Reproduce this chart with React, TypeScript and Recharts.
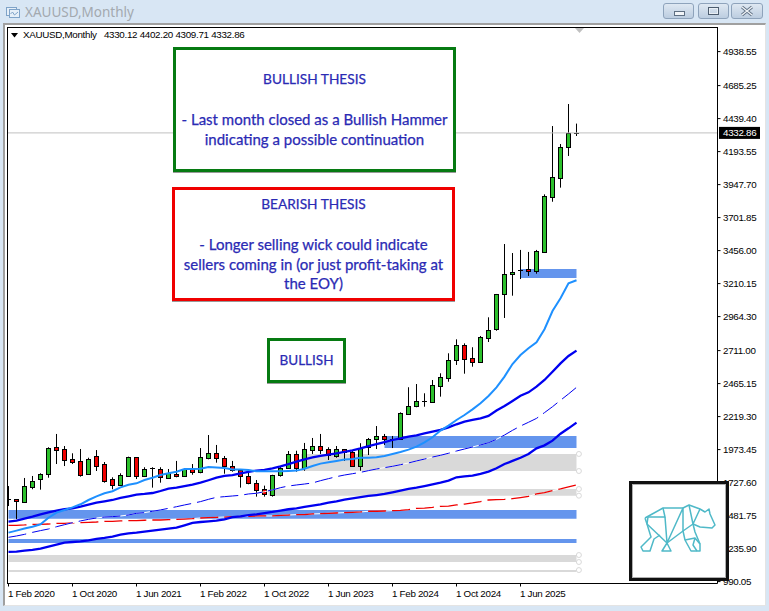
import React from 'react';
import {
  ComposedChart,
  Bar,
  Line,
  XAxis,
  YAxis,
  ReferenceArea,
  ReferenceLine,
  ReferenceDot,
} from 'recharts';

// monthly candles, Feb 2020 onwards
const opens = [1602,1603,1585,1697,1752,1789,1991,1976,1901,1886,1789,1924,1864,1754,1712,1777,1916,1779,1833,1827,1764,1789,1779,1839,1804,1913,1946,1909,1849,1819,1775,1722,1678,1637,1782,1834,1938,1834,1973,1998,1976,1928,1976,1953,1854,1991,2050,2075,2050,2050,2241,2296,2330,2330,2450,2509,2639,2751,2654,2626,2807,2874,3130,3279,3311,3317,3302,3448,3858,3995,4226,4330.12];
const highs = [1702,1605,1762,1777,1797,1991,2090,2000,1946,1978,1913,1970,1881,1767,1797,1921,1918,1842,1842,1842,1829,1889,1836,1866,1985,2082,2008,1926,1889,1821,1816,1747,1705,1786,1851,1963,1965,2023,2060,2090,1991,2000,1978,1963,2021,2060,2149,2090,2075,2251,2438,2462,2393,2492,2542,2691,2795,2765,2736,2820,2959,3133,3505,3438,3461,3446,3461,3875,4384,4250,4548,4402.2];
const lows = [1553,1456,1581,1678,1675,1764,1866,1851,1866,1772,1786,1814,1727,1678,1710,1772,1754,1769,1690,1727,1757,1767,1772,1786,1797,1901,1876,1794,1809,1690,1715,1623,1623,1623,1772,1829,1809,1816,1941,1941,1896,1913,1889,1854,1816,1933,1978,2008,1985,2045,2233,2289,2293,2326,2368,2479,2604,2539,2591,2624,2775,2859,2954,3120,3244,3267,3284,3443,3820,3925,4161,4309.71];
const closes = [1604,1587,1700,1737,1789,1983,1973,1898,1883,1786,1901,1854,1742,1712,1782,1916,1779,1829,1831,1767,1797,1779,1827,1804,1916,1946,1909,1849,1819,1775,1722,1670,1640,1782,1834,1938,1834,1976,1998,1973,1931,1976,1953,1854,1988,2050,2075,2050,2049,2244,2296,2333,2333,2455,2512,2639,2751,2651,2628,2810,2862,3130,3279,3294,3308,3302,3451,3861,4002,4226,4330,4332.86];

// moving averages
const fastMa = [1355,1370,1385,1399,1417,1466,1504,1523,1543,1566,1598,1625,1648,1663,1692,1712,1722,1747,1764,1784,1797,1809,1829,1829,1831,1844,1841,1836,1826,1826,1821,1812,1812,1812,1812,1814,1817,1831,1851,1869,1879,1889,1899,1903,1913,1913,1916,1926,1941,1956,1973,1995,2028,2065,2115,2152,2194,2231,2273,2318,2373,2437,2517,2611,2678,2728,2773,2870,3006,3101,3212,3235];
const midMa = [1437,1444,1459,1474,1491,1506,1519,1529,1536,1548,1563,1578,1588,1598,1613,1625,1638,1643,1650,1665,1683,1690,1702,1712,1727,1745,1764,1777,1784,1797,1807,1817,1822,1834,1849,1866,1884,1901,1916,1926,1936,1946,1956,1968,1983,2000,2015,2030,2045,2057,2070,2080,2095,2107,2120,2139,2162,2182,2194,2206,2224,2264,2298,2336,2375,2400,2442,2492,2554,2616,2671,2711];
const thinMa = [1320,1330,1342,1357,1370,1382,1399,1414,1429,1442,1454,1464,1471,1474,1479,1486,1499,1504,1514,1524,1536,1548,1561,1573,1586,1603,1618,1623,1628,1633,1643,1648,1660,1673,1690,1702,1710,1717,1725,1742,1757,1772,1784,1794,1804,1817,1829,1839,1849,1861,1874,1889,1903,1918,1931,1946,1963,1978,1993,2008,2025,2050,2082,2117,2149,2177,2206,2249,2293,2341,2388,2437];
const slowMa = [1211,1213,1221,1226,1236,1250,1265,1280,1285,1290,1298,1308,1315,1325,1340,1350,1355,1362,1370,1377,1385,1392,1409,1427,1434,1439,1444,1454,1471,1476,1486,1491,1501,1509,1519,1529,1536,1546,1556,1566,1578,1588,1601,1610,1620,1628,1635,1643,1655,1668,1680,1690,1702,1715,1727,1742,1767,1774,1779,1792,1809,1834,1866,1889,1913,1941,1983,2005,2040,2092,2132,2174];
const redMa = [1409,1409,1412,1417,1417,1419,1424,1424,1427,1429,1432,1434,1439,1439,1442,1444,1444,1447,1449,1449,1452,1454,1456,1459,1464,1466,1469,1471,1474,1474,1476,1479,1479,1479,1484,1486,1489,1489,1494,1496,1499,1501,1504,1506,1509,1514,1514,1516,1519,1521,1526,1536,1538,1543,1551,1553,1561,1568,1576,1586,1598,1601,1603,1608,1616,1625,1643,1653,1668,1680,1695,1710];

// zones: [first month, last month, top price, bottom price]
const blueZones = [
  [64, 71, 3319, 3252],
  [47, 71, 2075, 1985],
  [0, 71, 1523, 1459],
  [0, 71, 1307, 1278],
];
const greyZones = [
  [36.6, 71, 1941, 1814],
  [32.5, 71, 1680, 1630],
  [0, 71, 1188, 1136],
  [0, 71, 1076, 1062],
];
const zoneHandles = [1941, 1814, 1680, 1630, 1188, 1136, 1076];

const priceTicks = [4938.55,4685.25,4439.40,4193.55,3947.70,3701.85,3456.00,3210.15,2964.30,2711.00,2465.15,2219.30,1973.45,1727.60,1481.75,1235.90,990.05];
const monthTicks = [0, 8, 16, 24, 32, 40, 48, 56, 64];
const monthLabels = ['1 Feb 2020','1 Oct 2020','1 Jun 2021','1 Feb 2022','1 Oct 2022','1 Jun 2023','1 Feb 2024','1 Oct 2024','1 Jun 2025'];
const lastPrice = 4332.86;

const rows = opens.map((open, i) => ({
  i,
  open,
  high: highs[i],
  low: lows[i],
  close: closes[i],
  fastMa: fastMa[i],
  midMa: midMa[i],
  thinMa: thinMa[i],
  slowMa: slowMa[i],
  redMa: redMa[i],
}));

const AXIS_FONT = '"Liberation Sans", sans-serif';
const AXIS_SIZE = 9.8;
const AXIS_SPACING = -0.3;
const NOTE_FONT = 'Lato, sans-serif';
const NOTE_COLOR = '#2a2ab4';

const Candle = (props: any) => {
  const { x, y, width, height, payload } = props;
  const { open, high, low, close } = payload;
  const cx = Math.floor(x + width / 2) + 0.5;
  const top = Math.min(y, y + height);
  const span = Math.abs(height);
  const perUnit = span / (high - low);
  const openY = top + (high - open) * perUnit;
  const closeY = top + (high - close) * perUnit;
  const bodyTop = Math.round(Math.min(openY, closeY)) + 0.5;
  const bodyBottom = Math.round(Math.max(openY, closeY)) + 0.5;
  const isDoji = Math.abs(open - close) < 8;
  return (
    <g>
      <line x1={cx} x2={cx} y1={top} y2={top + span} stroke="#000" />
      {isDoji ? (
        <line x1={cx - 2.5} x2={cx + 2.5} y1={bodyTop} y2={bodyTop} stroke="#000" />
      ) : (
        <rect
          x={cx - 2}
          y={bodyTop}
          width={4}
          height={Math.max(bodyBottom - bodyTop, 1)}
          fill={close > open ? '#2cc02c' : '#f00000'}
          stroke="#000"
        />
      )}
    </g>
  );
};

const MonthTick = (props: any) => {
  const { x, y, index } = props;
  return (
    <text
      x={x - 0.5}
      y={y + 8}
      fontFamily={AXIS_FONT}
      fontSize={AXIS_SIZE}
      letterSpacing={AXIS_SPACING}
      fill="#000"
      textAnchor="start"
    >
      {monthLabels[index]}
    </text>
  );
};

const PriceTag = (props: any) => {
  const y = props.viewBox.y;
  return (
    <g>
      <rect x={719} y={y - 6} width={41} height={12} fill="#000" />
      <text x={723} y={y + 3.5} fontFamily={AXIS_FONT} fontSize={AXIS_SIZE} letterSpacing={AXIS_SPACING} fill="#fff">
        {lastPrice.toFixed(2)}
      </text>
    </g>
  );
};

const NoteBox = ({ left, top, width, height, color, lines }: any) => (
  <div
    style={{
      position: 'absolute',
      left,
      top,
      width,
      height,
      boxSizing: 'border-box',
      border: `3px solid ${color}`,
      background: '#fff',
      boxShadow: '0 1px 0 #999',
    }}
  >
    {lines.map(([text, y, size]: [string, number, number]) => (
      <div
        key={text}
        style={{
          position: 'absolute',
          left: -3,
          width,
          top: y - top - 13,
          height: 20,
          lineHeight: '20px',
          textAlign: 'center',
          whiteSpace: 'nowrap',
          fontFamily: NOTE_FONT,
          fontSize: size,
          color: NOTE_COLOR,
          WebkitTextStroke: '0.25px #2a2ab4',
        }}
      >
        {text}
      </div>
    ))}
  </div>
);

const WinButton = ({ left, width, children }: any) => (
  <div
    style={{
      position: 'absolute',
      left,
      top: 3,
      width,
      height: 16,
      boxSizing: 'border-box',
      border: '1px solid #8ea3bb',
      borderRadius: 3,
      background: 'linear-gradient(#dfe8f2, #bccde0)',
    }}
  >
    {children}
  </div>
);

const BearLogo = () => (
  <svg
    width={85}
    height={70}
    style={{ position: 'absolute', left: 635, top: 495 }}
    fill="none"
    stroke="#4fb9c8"
    strokeWidth={1.5}
    strokeLinejoin="round"
  >
    <path d="M10,23 L28,13 L48,13 L54,10 L65,14 L70,17 L74,14 L75,19 L80,30 L77,33 L65,32 L58,29 L48,36 L32,48 L12,29 L10,23" />
    <path d="M12,29 L13,22 L30,22 L28,13" />
    <path d="M30,22 L32,48 L48,13 L48,36" />
    <path d="M54,10 L58,29 L65,14" />
    <path d="M12,29 L16,42 L6,52 L8,56 L15,56 L19,44 L25,40" />
    <path d="M32,48 L27,56 L36,56 L32,48" />
    <path d="M48,36 L50,45 L56,56 L65,56 L65,49 L60,37 L58,29" />
    <path d="M50,45 L60,43 L65,49 M60,43 L58,50 L62,56" />
  </svg>
);

export default function App() {
  return (
    <div
      style={{
        position: 'absolute',
        left: 0,
        top: 0,
        width: 769,
        height: 611,
        overflow: 'hidden',
        background: '#d8e6f4',
      }}
    >
      {/* window title bar */}
      <svg width={14} height={14} style={{ position: 'absolute', left: 6, top: 5 }} fill="none" stroke="#7fa3c8">
        <rect x={0.5} y={2.5} width={10} height={8} fill="#e6eff8" />
        <rect x={3.5} y={4.5} width={10} height={8} fill="#e6eff8" />
        <path d="M4.5,9 L6.5,7 L8.5,10 L12,7" />
      </svg>
      <div
        style={{
          position: 'absolute',
          left: 25,
          top: 3,
          fontFamily: '"Noto Sans", sans-serif',
          fontSize: 13.5,
          lineHeight: '18px',
          color: '#a3a9af',
        }}
      >
        XAUUSD,Monthly
      </div>
      <WinButton left={663} width={31}>
        <div style={{ position: 'absolute', left: 10, top: 7, width: 9, height: 3, background: '#f2f5f8', border: '1px solid #5e6f82' }} />
      </WinButton>
      <WinButton left={698} width={31}>
        <div style={{ position: 'absolute', left: 9, top: 3, width: 9, height: 6, border: '1px solid #4c5c6e', boxShadow: 'inset 0 0 0 1px #e8eef4' }} />
      </WinButton>
      <WinButton left={731} width={32}>
        <svg width={30} height={14} style={{ position: 'absolute', left: 0, top: 0 }}>
          <path d="M10,3 L20,11 M20,3 L10,11" stroke="#5e6f82" strokeWidth={3} />
          <path d="M10,3 L20,11 M20,3 L10,11" stroke="#eef2f6" strokeWidth={1.4} />
        </svg>
      </WinButton>

      {/* chart client area */}
      <div
        style={{
          position: 'absolute',
          left: 3,
          top: 23,
          width: 763,
          height: 583,
          background: '#fff',
          borderLeft: '2px solid #a0a0a0',
          borderTop: '2px solid #a0a0a0',
          borderRight: '1px solid #e4e4e4',
          borderBottom: '1px solid #e4e4e4',
          boxSizing: 'border-box',
        }}
      />
      <div
        style={{
          position: 'absolute',
          left: 7,
          top: 27,
          width: 710,
          height: 556,
          borderLeft: '1px solid #000',
          borderTop: '1px solid #000',
        }}
      />
      <div style={{ position: 'absolute', left: 0, top: 0 }}>
        <ComposedChart
          width={769}
          height={611}
          data={rows}
          margin={{ top: 27.5, right: 0, bottom: 0, left: 8 }}
        >
          <XAxis
            type="number"
            dataKey="i"
            domain={[-0.0625, 88.625]}
            allowDataOverflow
            ticks={monthTicks}
            interval={0}
            height={27.5}
            tickSize={3}
            tickLine={{ stroke: '#000' }}
            axisLine={{ stroke: '#000' }}
            tick={<MonthTick />}
          />
          <YAxis
            type="number"
            orientation="right"
            domain={[975.9, 5118.1]}
            allowDataOverflow
            ticks={priceTicks}
            interval={0}
            width={51.5}
            tickSize={3}
            tickMargin={2.5}
            tickLine={{ stroke: '#000' }}
            axisLine={{ stroke: '#000' }}
            tick={{ fontFamily: AXIS_FONT, fontSize: AXIS_SIZE, letterSpacing: AXIS_SPACING, fill: '#000' }}
            tickFormatter={(v: number) => v.toFixed(2)}
          />
          <ReferenceLine y={lastPrice} stroke="#c0c0c0" label={<PriceTag />} />
          {blueZones.map(([x1, x2, y1, y2]) => (
            <ReferenceArea key={y1} x1={x1} x2={x2} y1={y1} y2={y2} fill="#6495ed" fillOpacity={1} stroke="none" />
          ))}
          {greyZones.map(([x1, x2, y1, y2]) => (
            <ReferenceArea key={y1} x1={x1} x2={x2} y1={y1} y2={y2} fill="#d9d9d9" fillOpacity={1} stroke="none" />
          ))}
          {zoneHandles.map((y) => (
            <ReferenceDot key={y} x={71.3} y={y} r={2.5} fill="#fff" stroke="#d9d9d9" strokeWidth={1} />
          ))}
          <Line dataKey="redMa" stroke="#fff" strokeWidth={1} dot={false} isAnimationActive={false} />
          <Line dataKey="redMa" stroke="#f00000" strokeWidth={1.3} strokeDasharray="18 6" dot={false} isAnimationActive={false} />
          <Line dataKey="thinMa" stroke="#fff" strokeWidth={1} dot={false} isAnimationActive={false} />
          <Line dataKey="thinMa" stroke="#0000f0" strokeWidth={1} strokeDasharray="18 6" dot={false} isAnimationActive={false} />
          <Line dataKey="slowMa" stroke="#0000f0" strokeWidth={2.3} dot={false} isAnimationActive={false} />
          <Line dataKey="midMa" stroke="#0000f0" strokeWidth={2.3} dot={false} isAnimationActive={false} />
          <Line dataKey="fastMa" stroke="#1e90ff" strokeWidth={2} dot={false} isAnimationActive={false} />
          <Bar dataKey={(r: any) => [r.low, r.high]} barSize={5} shape={<Candle />} isAnimationActive={false} />
        </ComposedChart>
      </div>

      {/* symbol line */}
      <svg width={8} height={6} style={{ position: 'absolute', left: 11, top: 33 }}>
        <path d="M0,0 L7,0 L3.5,4.5 Z" fill="#000" />
      </svg>
      <div
        style={{
          position: 'absolute',
          left: 23,
          top: 29,
          fontFamily: AXIS_FONT,
          fontSize: AXIS_SIZE,
          letterSpacing: AXIS_SPACING,
          lineHeight: '12px',
          whiteSpace: 'pre',
          color: '#000',
        }}
      >
        {'XAUUSD,Monthly   4330.12 4402.20 4309.71 4332.86'}
      </div>
      <svg width={10} height={6} style={{ position: 'absolute', left: 575, top: 28 }}>
        <path d="M0,0 L9,0 L4.5,5 Z" fill="#c0c0c0" />
      </svg>

      {/* analyst notes */}
      <NoteBox
        left={173}
        top={47}
        width={283}
        height={125}
        color="#067a12"
        lines={[
          ['BULLISH THESIS', 79, 13.7],
          ['- Last month closed as a Bullish Hammer', 118.5, 15],
          ['indicating a possible continuation', 138.5, 15],
        ]}
      />
      <NoteBox
        left={172}
        top={187}
        width={283}
        height={114}
        color="#f00000"
        lines={[
          ['BEARISH THESIS', 204, 13.7],
          ['- Longer selling wick could indicate', 243.5, 15],
          ['sellers coming in (or just profit-taking at', 263.5, 15],
          ['the EOY)', 282.5, 15],
        ]}
      />
      <NoteBox left={267} top={338} width={79} height={45} color="#067a12" lines={[['BULLISH', 359.5, 13.5]]} />

      {/* logo */}
      <div
        style={{
          position: 'absolute',
          left: 629,
          top: 481,
          width: 100,
          height: 100,
          boxSizing: 'border-box',
          border: '3px solid #111',
          boxShadow: 'inset 0 0 0 1px #b0b0b0',
          background: '#fff',
        }}
      />
      <BearLogo />
    </div>
  );
}
